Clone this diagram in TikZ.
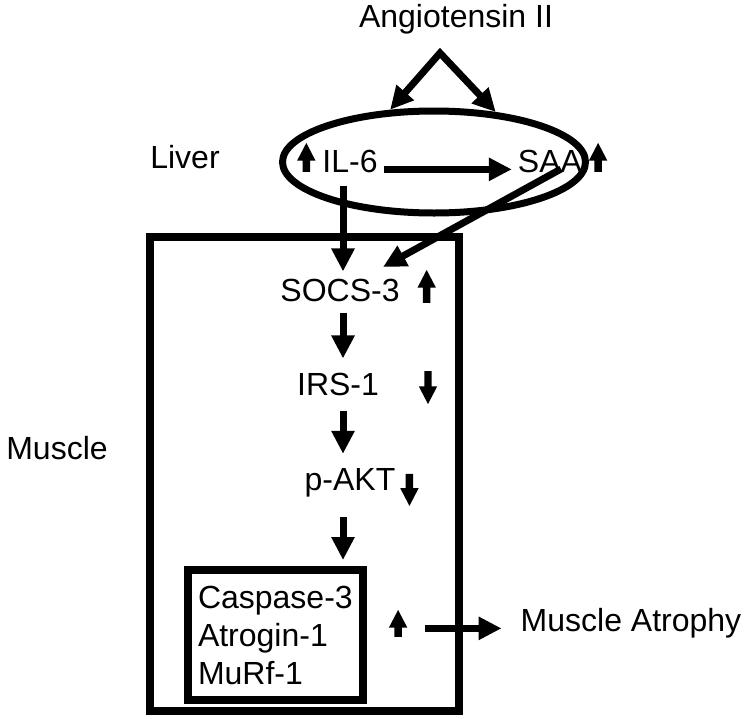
\documentclass[tikz,border=0pt]{standalone}
\usepackage{fontspec}
\setmainfont{Liberation Sans}
\usetikzlibrary{arrows.meta,positioning,shapes.geometric,shapes.arrows}

\begin{document}
\begin{tikzpicture}[
		x=1pt, y=-1pt,
		every node/.style={font=\fontsize{32}{38}\selectfont, inner sep=0pt},
		lbl/.style={anchor=base},
		box/.style={draw, line width=8pt},
		>={Triangle[length=23pt,width=22pt]},
		flow/.style={line width=7pt, ->},
		upmark/.style={fill, single arrow, shape border rotate=90, inner sep=3.5pt,
				single arrow head extend=5.5pt, single arrow tip angle=55},
		downmark/.style={upmark, shape border rotate=270}
	]

	\useasboundingbox (0,0) rectangle (750,718);

	% compartments
	\node[draw, ellipse, line width=7pt, minimum width=303pt, minimum height=102pt] (liver) at (434,162) {};
	\node[box, minimum width=309pt, minimum height=474pt] (muscle) at (304.5,474) {};

	% labels
	\node[lbl] (ang) at (456,27) {Angiotensin II};
	\node[lbl] (liverlbl) at (185,168) {Liver};
	\node[lbl] (musclelbl) at (57,459) {Muscle};
	\node[lbl] (il6) at (350,172) {IL-6};
	\node[lbl] (saa) at (550,172) {SAA};
	\node[lbl] (socs) at (340,301) {SOCS-3};
	\node[lbl] (irs) at (338,395) {IRS-1};
	\node[lbl] (akt) at (350,490) {p-AKT};
	\node[box, text width=155pt, inner xsep=10pt, minimum height=130pt, align=left] (genes) at (275.5,635)
		{Caspase-3\\Atrogin-1\\MuRf-1};
	\node[lbl] (atrophy) at (631,631) {Muscle Atrophy};

	% up / down marks
	\node[upmark, minimum height=29pt, left=12pt of il6] (il6up) {};
	\node[upmark, minimum height=29pt, right=12pt of saa] (saaup) {};
	\node[upmark, minimum height=33pt, right=23pt of socs] (socsup) {};
	\node[downmark, minimum height=33pt, right=45pt of irs] (irsdown) {};
	\node[downmark, minimum height=32pt, right=10pt of akt, yshift=-4pt] (aktdown) {};
	\node[upmark, minimum height=27pt, right=22pt of genes, yshift=8pt] (genesup) {};

	% connectors
	\coordinate (apex) at (440,53);
	\coordinate (spine) at (343,0);
	\coordinate (saaout) at (561,169);
	\coordinate (socsin) at (383,267);

	\draw[flow, <->, line join=miter] (liver.130) -- (apex) -- (liver.39);
	\draw[flow, shorten <=6pt, shorten >=6pt] (il6.mid east) -- (saa.mid west);
	\draw[flow, shorten <=13pt, shorten >=7pt] (il6.south -| spine) -- (socs.north -| spine);
	\draw[flow] (saaout) -- (socsin);
	\draw[flow, shorten <=11pt, shorten >=14pt] (socs.south -| spine) -- (irs.north -| spine);
	\draw[flow, shorten <=15pt, shorten >=14pt] (irs.south -| spine) -- (akt.north -| spine);
	\draw[flow, shorten <=20pt, shorten >=6pt] (akt.south -| spine) -- (genes.north -| spine);
	\draw[flow, shorten <=58pt, shorten >=19pt, yshift=4pt] (atrophy.mid west -| genes.east) -- (atrophy.mid west);

\end{tikzpicture}
\end{document}
